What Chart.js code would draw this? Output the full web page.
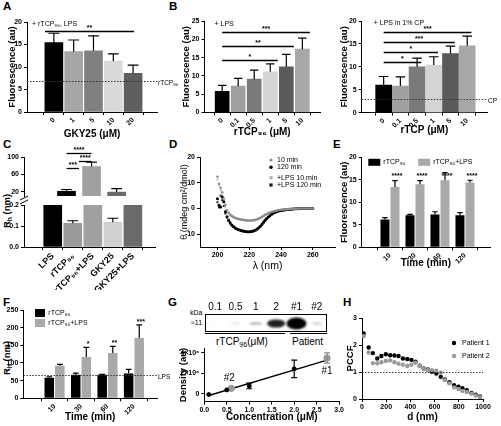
<!DOCTYPE html>
<html>
<head>
<meta charset="utf-8">
<script src="https://cdn.jsdelivr.net/npm/chart.js@4.4.1/dist/chart.umd.min.js"></script>
<style>
body { margin: 0; width: 501px; height: 426px; overflow: hidden; background: #fff; position: relative;
       font-family: 'Liberation Sans', 'DejaVu Sans', Arial, sans-serif; }
canvas { position: absolute; }
.t { position: absolute; white-space: nowrap; color: #000; }
.L { font-weight: bold; font-size: 11.5px; line-height: 12px; }
.rot { transform: translate(-50%, -50%) rotate(-90deg); font-weight: bold; font-size: 9.5px; }
sub { font-size: 70%; vertical-align: -2px; line-height: 0; }
</style>
</head>
<body>
<div class="t L" style="left:3px;top:0px">A</div>
<div class="t L" style="left:169px;top:0px">B</div>
<div class="t L" style="left:3px;top:138px">C</div>
<div class="t L" style="left:169px;top:138px">D</div>
<div class="t L" style="left:333px;top:138px">E</div>
<div class="t L" style="left:3px;top:296px">F</div>
<div class="t L" style="left:168px;top:296px">G</div>
<div class="t L" style="left:343px;top:296px">H</div>

<div class="t rot" style="left:6px;top:211px">R<sub>h</sub> (nm)</div>
<div class="t rot" style="left:6px;top:358px">R<sub>h</sub> (nm)</div>

<div class="t" style="left:190px;top:309px;font-size:7px">kDa</div>
<div class="t" style="left:191px;top:319px;font-size:7px">≈11</div>
<div class="t" style="left:205px;top:333px;width:80px;border-top:1.5px solid #000"></div>
<div class="t" style="left:290px;top:333px;width:37px;border-top:1.5px solid #000"></div>
<div class="t" style="left:216px;top:336px;font-size:10px">rTCP<sub>96</sub>(μM)</div>
<div class="t" style="left:292px;top:336px;font-size:10px">Patient</div>

<script>
// ---- data ----
// A
const gkyDoses = ['0', '1', '5', '10', '20'];
const fluoGky = [15.4, 13.4, 13.6, 11.3, 8.6];
const fluoGkyErr = [2.1, 2.6, 3.3, 1.6, 1.8];
// B
const tcpDoses = ['0', '0.1', '0.5', '1', '5', '10'];
const fluoLps = [5.8, 7.2, 9.1, 11.1, 12.5, 17.3];
const fluoLpsErr = [1.6, 2.1, 2.5, 2.2, 3.4, 3.0];
const fluoCP = [6.0, 5.8, 10.0, 10.4, 12.9, 14.6];
const fluoCPErr = [1.9, 2.0, 1.9, 1.8, 1.6, 2.1];
// C
const rhGroups = ['LPS', 'rTCP₉₆', 'rTCP₉₆+LPS', 'GKY25', 'GKY25+LPS'];
const rhC = [21, 0.113, 78, 0.118, 19];
const rhCErr = [4, 0.012, 10, 0.019, 8];
// D
const wavelength = [200, 201, 202, 203, 204, 205, 206, 207, 208, 209, 210, 211, 212, 213, 214, 215, 216, 217, 218, 219,
  220, 221, 222, 223, 224, 225, 226, 227, 228, 229, 230, 231, 232, 233, 234, 235, 236, 237, 238, 239,
  240, 241, 242, 243, 244, 245, 246, 247, 248, 249, 250, 251, 252, 253, 254, 255, 256, 257, 258, 259, 260];
const cd10 = [12.3, 9.6, 8.0, 6.3, 3.8, 1.4, -0.6, -1.7, -2.4, -2.9,
  -3.3, -3.6, -3.8, -4.0, -4.2, -4.3, -4.4, -4.5, -4.6, -4.7,
  -4.7, -4.7, -4.6, -4.5, -4.4, -4.2, -3.9, -3.6, -3.3, -2.9,
  -2.5, -2.2, -1.9, -1.6, -1.4, -1.2, -1.0, -0.9, -0.7, -0.6,
  -0.5, -0.45, -0.4, -0.35, -0.3, -0.25, -0.2, -0.2, -0.15, -0.1,
  -0.1, -0.05, -0.05, 0, 0, 0, 0, 0, 0, 0, 0];
const cd120 = [3.8, 1.2, 0.6, 4.4, 2.6, -1.3, -3.2, -4.6, -5.6, -6.4,
  -7.0, -7.5, -7.9, -8.2, -8.4, -8.6, -8.8, -8.9, -9.0, -9.1,
  -9.1, -9.0, -8.9, -8.7, -8.4, -8.0, -7.5, -6.9, -6.2, -5.4,
  -4.6, -3.9, -3.3, -2.8, -2.3, -1.9, -1.6, -1.3, -1.1, -0.9,
  -0.8, -0.7, -0.6, -0.5, -0.4, -0.35, -0.3, -0.25, -0.2, -0.15,
  -0.1, -0.1, -0.05, 0, 0, 0, 0, 0, 0, 0, 0];
const cdLps10 = [11.2, 9.0, 7.1, 5.2, 2.9, 0.6, -1.0, -2.0, -2.7, -3.1,
  -3.5, -3.8, -4.0, -4.2, -4.3, -4.4, -4.5, -4.6, -4.7, -4.8,
  -4.8, -4.8, -4.7, -4.6, -4.5, -4.3, -4.0, -3.7, -3.4, -3.0,
  -2.6, -2.3, -2.0, -1.7, -1.5, -1.3, -1.1, -0.9, -0.8, -0.7,
  -0.6, -0.5, -0.45, -0.4, -0.35, -0.3, -0.25, -0.2, -0.2, -0.15,
  -0.1, -0.1, -0.05, -0.05, 0, 0, 0, 0, 0, 0, 0];
const cdLps120 = [2.4, 0.4, 5.0, 3.2, 1.0, -2.0, -3.6, -4.9, -5.9, -6.6,
  -7.2, -7.7, -8.0, -8.3, -8.5, -8.7, -8.9, -9.0, -9.1, -9.2,
  -9.2, -9.1, -9.0, -8.8, -8.5, -8.1, -7.6, -7.0, -6.3, -5.5,
  -4.7, -4.0, -3.4, -2.9, -2.4, -2.0, -1.7, -1.4, -1.2, -1.0,
  -0.85, -0.75, -0.65, -0.55, -0.45, -0.4, -0.35, -0.3, -0.25, -0.2,
  -0.15, -0.1, -0.1, -0.05, 0, 0, 0, 0, 0, 0, 0];
// E
const timePoints = ['10', '30', '60', '120'];
const fluoTcp = [6.2, 7.1, 7.3, 7.1];
const fluoTcpErr = [0.4, 0.2, 0.6, 0.6];
const fluoTcpLps = [13.4, 14.0, 14.9, 14.4];
const fluoTcpLpsErr = [1.4, 0.8, 1.7, 0.5];
// F
const rhTcp = [58, 67, 67, 70];
const rhTcpErr = [3, 4, 1, 12];
const rhTcpLps = [92, 117, 128, 171];
const rhTcpLpsErr = [4, 27, 19, 37];
// G
const blotLanes = ['0.1', '0.5', '1', '2', '#1', '#2'];
const bandSignal = [0.06, 0.18, 0.4, 0.85, 1.0, 0.3];
const stdConc = [0.1, 0.5, 1.0, 2.0];
const stdDensity = [-0.05e6, 0.4e6, 0.78e6, 2.45e6];
const stdErr = [0, 0, 0.27e6, 0.85e6];
const patientConc = [2.73, 0.6];
const patientDensity = [3.5e6, 0.55e6];
const patientErr = [0.5e6, 0];
const fitConc = [0.1, 2.73];
const fitDensity = [-0.15e6, 3.3e6];
// H
const distance = [14, 55, 90, 126, 160, 197, 233, 268, 302, 338, 374, 408, 442, 477, 510, 545, 578, 614, 651, 685,
  722, 761, 797, 830, 866, 904, 940, 975];
const pccf1 = [2.43, 1.91, 1.70, 1.50, 1.59, 1.66, 1.62, 1.61, 1.59, 1.50, 1.48, 1.45, 1.38, 1.23, 1.13, 1.09,
  1.01, 0.94, 0.82, 0.72, 0.62, 0.51, 0.46, 0.40, 0.33, 0.22, 0.16, 0.09];
const pccf2 = [2.33, 1.72, 1.33, 1.32, 1.36, 1.41, 1.43, 1.36, 1.31, 1.27, 1.22, 1.27, 1.34, 1.22, 1.12, 1.08,
  1.07, 1.05, 0.97, 0.70, 0.58, 0.43, 0.37, 0.30, 0.26, 0.20, 0.13, 0.07];

// ---- helpers ----
const FF = "'Liberation Sans', 'DejaVu Sans', Arial, sans-serif";
Chart.defaults.font.family = FF;
Chart.defaults.color = '#000';

function mk(id, left, top, w, h) {
  const cv = document.createElement('canvas');
  cv.id = id; cv.width = w; cv.height = h;
  cv.style.left = left + 'px'; cv.style.top = top + 'px';
  document.body.appendChild(cv);
  return cv;
}

function yAxis(o) {
  const ax = {
    type: 'linear', min: o.min, max: o.max,
    border: {color: '#000', width: 1},
    grid: {drawOnChartArea: false, color: '#000', tickLength: 3},
    ticks: {font: {size: 7, weight: 'bold'}, padding: 2, stepSize: o.step, callback: o.fmt || (v => v)},
    title: {display: !!o.title, text: o.title, font: {size: o.tsize || 9.5, weight: o.tweight || 'bold'}, padding: 4},
    afterFit: s => { s.width = o.w; }
  };
  if (o.ticks) ax.afterBuildTicks = s => { s.ticks = o.ticks.map(v => ({value: v})); };
  return ax;
}

function xAxis(o) {
  const ax = {
    type: 'linear', min: o.min, max: o.max,
    border: {color: '#000', width: 1},
    grid: {drawOnChartArea: false, color: '#000', tickLength: 3},
    ticks: {font: {size: o.fsize || 7, weight: 'bold'}, padding: 1, autoSkip: false, stepSize: o.step,
            minRotation: o.rot || 0, maxRotation: o.rot || 0,
            callback: o.labels ? (v => o.labels[v]) : (o.fmt || (v => v))},
    title: {display: !!o.title, text: o.title, font: {size: o.tsize || 10, weight: o.tweight || 'bold'}, padding: 4},
    afterFit: s => { s.height = o.h; }
  };
  if (o.labels) ax.afterBuildTicks = s => { s.ticks = o.labels.map((l, i) => ({value: i})); };
  else if (o.ticks) ax.afterBuildTicks = s => { s.ticks = o.ticks.map(v => ({value: v})); };
  return ax;
}

function base(pad, x, y) {
  return {
    responsive: false, animation: false, devicePixelRatio: 1,
    layout: {padding: {left: 0, top: pad[0], right: pad[1], bottom: pad[2] || 0}},
    plugins: {legend: {display: false}, tooltip: {enabled: false}},
    scales: {x: x, y: y}
  };
}

function bars(vals, errs, colors, thick) {
  return {data: vals.map((v, i) => ({x: i, y: v})), errors: errs, backgroundColor: colors,
          barThickness: thick, clip: 0};
}

function txt(c, s, x, y, size, align, weight) {
  c.font = (weight || 'normal') + ' ' + size + 'px ' + FF;
  c.textAlign = align || 'left';
  c.textBaseline = 'middle';
  c.fillStyle = '#000';
  c.fillText(s, x, y);
}

function bracket(c, xs, ys, b, ext) {
  const y = Math.round(ys.getPixelForValue(b[2])) + 0.5;
  const x0 = xs.getPixelForValue(b[0] + ext[0]), x1 = xs.getPixelForValue(b[1] + ext[1]);
  c.strokeStyle = '#000'; c.lineWidth = 1.3;
  c.beginPath(); c.moveTo(x0, y); c.lineTo(x1, y); c.stroke();
  txt(c, b[3], (x0 + x1) / 2, y - 3.5, 7, 'center', 'bold');
}

function refLine(c, a, ys, v, label) {
  const y = Math.round(ys.getPixelForValue(v)) + 0.5;
  c.strokeStyle = '#333'; c.lineWidth = 1; c.setLineDash([1.5, 1.5]);
  c.beginPath(); c.moveTo(a.left, y); c.lineTo(a.right, y); c.stroke();
  c.setLineDash([]);
  if (label) txt(c, label, a.right + 1, y + 2, 6.5, 'left');
}

const errorBars = {
  id: 'errorBars',
  afterDatasetsDraw(chart) {
    const c = chart.ctx, ys = chart.scales.y;
    chart.data.datasets.forEach((ds, di) => {
      if (!ds.errors) return;
      chart.getDatasetMeta(di).data.forEach((el, i) => {
        const e = ds.errors[i], v = ds.data[i].y;
        if (!e || v > ys.max || v + e < ys.min) return;
        const half = ds.capHalf || el.width * 0.3;
        const yTop = ys.getPixelForValue(v + e);
        const yBot = ds.bothWays ? ys.getPixelForValue(v - e) : el.y;
        c.save();
        c.strokeStyle = ds.errorColor || '#000'; c.lineWidth = 1.2;
        c.beginPath();
        c.moveTo(el.x, yBot); c.lineTo(el.x, yTop);
        c.moveTo(el.x - half, yTop); c.lineTo(el.x + half, yTop);
        if (ds.bothWays) { c.moveTo(el.x - half, yBot); c.lineTo(el.x + half, yBot); }
        c.stroke();
        c.restore();
      });
    });
  }
};

function deco(draw) {
  return {
    id: 'deco',
    afterDraw(chart) {
      const c = chart.ctx;
      c.save();
      draw(c, chart.scales.x, chart.scales.y, chart.chartArea, chart);
      c.restore();
    }
  };
}

const greys6 = ['#000000', '#a0a0a0', '#7a7a7a', '#d4d4d4', '#5a5a5a', '#a8a8a8'];

// ---- A ----
new Chart(mk('cA', 3, 0, 180, 144), {
  type: 'bar',
  data: {datasets: [bars(fluoGky, fluoGkyErr, ['#000000', '#a6a6a6', '#808080', '#d9d9d9', '#5f5f5f'], 18)]},
  options: base([22, 26],
    xAxis({labels: gkyDoses, min: -0.7, max: 4.55, h: 32, rot: 45, title: 'GKY25 (μM)'}),
    yAxis({min: 0, max: 20, step: 5, w: 24, title: 'Fluorescence (au)'})),
  plugins: [errorBars, deco((c, x, y, a) => {
    refLine(c, a, y, 7, 'rTCP₉₆');
    bracket(c, x, y, [0, 4, 18.1, '**'], [-0.45, 0.05]);
    txt(c, '+ rTCP₉₆, LPS', a.left + 5, a.top + 2, 7);
  })]
});

// ---- B (LPS) ----
new Chart(mk('cB1', 177, 0, 165, 142), {
  type: 'bar',
  data: {datasets: [bars(fluoLps, fluoLpsErr, greys6, 14)]},
  options: base([21, 22],
    xAxis({labels: tcpDoses, min: -0.5, max: 5.5, h: 29.5, rot: 45, title: 'rTCP₉₆ (μM)'}),
    yAxis({min: 0, max: 25, step: 5, w: 27.5, title: 'Fluorescence (au)'})),
  plugins: [errorBars, deco((c, x, y, a) => {
    [[0, 3, 14.3, '*'], [0, 4, 18.1, '**'], [0, 5, 21.9, '***']].forEach(b => bracket(c, x, y, b, [0, 0.47]));
    txt(c, '+ LPS', a.left + 10, a.top + 3, 7);
  })]
});

// ---- B (LPS in 1% CP) ----
new Chart(mk('cB2', 335, 0, 166, 140), {
  type: 'bar',
  data: {datasets: [bars(fluoCP, fluoCPErr, greys6, 16)]},
  options: base([21, 14],
    xAxis({labels: tcpDoses, min: -0.69, max: 5.56, h: 27.3, rot: 45, title: 'rTCP (μM)'}),
    yAxis({min: 0, max: 20, step: 5, w: 26.7, title: 'Fluorescence (au)'})),
  plugins: [errorBars, deco((c, x, y, a) => {
    refLine(c, a, y, 3, 'CP');
    [[0, 2, 11.0, '*'], [0, 3, 13.2, '*'], [0, 4, 15.4, '***'], [0, 5, 17.5, '***']]
      .forEach(b => bracket(c, x, y, b, [0, 0.25]));
    txt(c, '+ LPS in 1% CP', a.left + 12, a.top + 2, 7);
  })]
});

// ---- C (broken axis: upper and lower segments) ----
const cColors = ['#000000', '#9a9a9a', '#a0a0a0', '#d0d0d0', '#6a6a6a'];
new Chart(mk('cCtop', 0, 140, 170, 66), {
  type: 'bar',
  data: {datasets: [bars(rhC, rhCErr, cColors, 18)]},
  options: base([17, 15, 10],
    {type: 'linear', display: false, min: -0.78, max: 4.45},
    yAxis({min: 10, max: 100, w: 24, ticks: [20, 40, 60, 80, 100]})),
  plugins: [errorBars, deco((c, x, y, a) => {
    [[0, 2, 108.5, '****'], [1, 2, 90.8, '****'], [0, 1, 73.9, '***']].forEach(b => bracket(c, x, y, b, [0, 0]));
    c.strokeStyle = '#000'; c.lineWidth = 1;
    [a.bottom + 2, a.bottom + 6].forEach(yy => {
      c.beginPath(); c.moveTo(a.left - 4, yy + 2); c.lineTo(a.left + 4, yy - 2); c.stroke();
    });
  })]
});
new Chart(mk('cCbot', 0, 196, 170, 94), {
  type: 'bar',
  data: {datasets: [bars(rhC, rhCErr, cColors, 18)]},
  options: base([9, 15],
    xAxis({labels: rhGroups, min: -0.78, max: 4.45, h: 43, rot: 45, fsize: 9}),
    yAxis({min: 0, max: 0.2, step: 0.1, w: 24, fmt: v => v.toFixed(1)})),
  plugins: [errorBars]
});

// ---- D ----
function cdSet(label, vals, color, style, r) {
  return {type: 'scatter', label: label, data: wavelength.map((w, i) => ({x: w, y: vals[i]})),
          backgroundColor: color, borderColor: color, pointStyle: style, pointRadius: r, borderWidth: 0};
}
new Chart(mk('cD', 175, 140, 169, 136), {
  type: 'scatter',
  data: {datasets: [
    cdSet('10 min', cd10, '#8c8c8c', 'circle', 1.3),
    cdSet('120 min', cd120, '#000000', 'circle', 1.5),
    cdSet('+LPS 10 min', cdLps10, '#b5b5b5', 'rect', 1.3),
    cdSet('+LPS 120 min', cdLps120, '#1a1a1a', 'rect', 1.4)
  ]},
  options: base([17, 9],
    xAxis({min: 189, max: 274, h: 29, ticks: [200, 220, 240, 260], title: 'λ (nm)', tsize: 10.5, tweight: 'normal'}),
    yAxis({min: -15, max: 20, w: 25, ticks: [-10, 0, 10, 20], title: 'θ (mdeg cm²/dmol)', tsize: 9, tweight: 'normal'})),
  plugins: [deco((c, x, y, a, ch) => {
    const rows = [3, 10.3, 20.7, 28];
    ch.data.datasets.forEach((ds, i) => {
      const yy = a.top + rows[i], xx = a.left + 71;
      c.fillStyle = ds.backgroundColor;
      if (ds.pointStyle === 'rect') c.fillRect(xx - 1.6, yy - 1.6, 3.2, 3.2);
      else { c.beginPath(); c.arc(xx, yy, ds.pointRadius + 0.3, 0, Math.PI * 2); c.fill(); }
      txt(c, ds.label, xx + 6, yy, 7);
    });
  })]
});

// ---- E ----
new Chart(mk('cE', 335, 140, 166, 133), {
  type: 'bar',
  data: {datasets: [
    {data: fluoTcp.map((v, i) => ({x: i, y: v})), errors: fluoTcpErr, backgroundColor: '#000000', label: 'rTCP₉₆'},
    {data: fluoTcpLps.map((v, i) => ({x: i, y: v})), errors: fluoTcpLpsErr, backgroundColor: '#a9a9a9', label: 'rTCP₉₆+LPS'}
  ]},
  options: base([17.3, 11],
    xAxis({labels: timePoints, min: -0.49, max: 3.36, h: 25.7, rot: 45, title: 'Time (min)'}),
    yAxis({min: 0, max: 20, step: 5, w: 26.7, title: 'Fluorescence (au)'})),
  plugins: [errorBars, deco((c, x, y, a, ch) => {
    timePoints.forEach((t, i) => txt(c, '****', x.getPixelForValue(i) + 7, y.getPixelForValue(15.8), 7, 'center', 'bold'));
    [[6.6, 0], [56.5, 1]].forEach(([dx, di]) => {
      const ds = ch.data.datasets[di];
      c.fillStyle = ds.backgroundColor;
      c.fillRect(a.left + dx, a.top + 1.5, 12, 7);
      txt(c, ds.label, a.left + dx + 15, a.top + 5, 7);
    });
  })]
});

// ---- F ----
new Chart(mk('cF', 0, 292, 175, 135), {
  type: 'bar',
  data: {datasets: [
    {data: rhTcp.map((v, i) => ({x: i, y: v})), errors: rhTcpErr, backgroundColor: '#000000', label: 'rTCP₉₆'},
    {data: rhTcpLps.map((v, i) => ({x: i, y: v})), errors: rhTcpLpsErr, backgroundColor: '#a9a9a9', label: 'rTCP₉₆+LPS'}
  ]},
  options: base([18, 18],
    xAxis({labels: timePoints, min: -0.55, max: 3.24, h: 28.7, rot: 45, title: 'Time (min)'}),
    yAxis({min: 0, max: 250, step: 50, w: 23.3})),
  plugins: [errorBars, deco((c, x, y, a, ch) => {
    refLine(c, a, y, 65, 'LPS');
    ['', '*', '**', '***'].forEach((s, i) => {
      if (s) txt(c, s, x.getPixelForValue(i) + 7, y.getPixelForValue(rhTcpLps[i] + rhTcpLpsErr[i] + 9), 7, 'center', 'bold');
    });
    [0, 1].forEach(di => {
      const ds = ch.data.datasets[di];
      c.fillStyle = ds.backgroundColor;
      c.fillRect(a.left + 11.7, a.top - 1 + di * 10, 10, 8);
      txt(c, ds.label, a.left + 25, a.top + 3 + di * 10, 7);
    });
  })]
});

// ---- G: blot strip ----
new Chart(mk('cBlot', 205, 300, 122, 32), {
  type: 'line',
  data: {labels: blotLanes, datasets: [{data: bandSignal, showLine: false, pointRadius: 0}]},
  options: {
    responsive: false, animation: false, devicePixelRatio: 1,
    layout: {padding: 0},
    plugins: {legend: {display: false}, tooltip: {enabled: false}},
    scales: {
      x: {type: 'category', position: 'top', offset: true, border: {display: false},
          grid: {display: false, drawTicks: false}, ticks: {font: {size: 10}, padding: 1},
          afterFit: s => { s.height = 14; }},
      y: {display: false, min: 0, max: 1}
    }
  },
  plugins: [{
    id: 'bands',
    afterDatasetsDraw(chart) {
      const c = chart.ctx, a = chart.chartArea, ds = chart.data.datasets[0];
      const yc = (a.top + a.bottom) / 2 + 0.5;
      c.save();
      c.beginPath(); c.rect(a.left, a.top, a.right - a.left, a.bottom - a.top); c.clip();
      c.filter = 'blur(1.2px)';
      chart.getDatasetMeta(0).data.forEach((el, i) => {
        const s = ds.data[i];
        c.fillStyle = 'rgba(0,0,0,' + Math.min(1, Math.pow(s, 1.4) * 1.1) + ')';
        c.beginPath(); c.ellipse(el.x, yc, 4 + 6 * s, 1 + 5 * s * s * s, 0, 0, Math.PI * 2); c.fill();
      });
      c.restore();
      c.strokeStyle = '#000'; c.lineWidth = 1;
      c.strokeRect(a.left + 0.5, a.top + 0.5, a.right - a.left - 1, a.bottom - a.top - 1);
    }
  }]
});

// ---- G: standard curve ----
new Chart(mk('cG', 174, 340, 171, 87), {
  type: 'scatter',
  data: {datasets: [
    {data: stdConc.map((v, i) => ({x: v, y: stdDensity[i]})), errors: stdErr, bothWays: true, capHalf: 3,
     backgroundColor: '#000', borderColor: '#000', pointRadius: 2},
    {data: patientConc.map((v, i) => ({x: v, y: patientDensity[i]})), errors: patientErr, bothWays: true, capHalf: 3,
     errorColor: '#888', backgroundColor: '#999', borderColor: '#999', pointRadius: 3.2},
    {type: 'line', data: fitConc.map((v, i) => ({x: v, y: fitDensity[i]})), borderColor: '#000', borderWidth: 1.4,
     pointRadius: 0, showLine: true}
  ]},
  options: base([8.3, 5.7],
    xAxis({min: 0, max: 3, step: 0.5, h: 25.3, fmt: v => v.toFixed(1), title: 'Concentration (μM)'}),
    yAxis({min: -0.75e6, max: 4.45e6, w: 30.3, ticks: [0, 2e6, 4e6],
           fmt: v => v === 0 ? '0' : (v / 1e6) + '×10⁶', title: 'Density (au)'})),
  plugins: [errorBars, deco((c, x, y) => {
    txt(c, '#2', x.getPixelForValue(patientConc[1]) - 2, y.getPixelForValue(patientDensity[1]) - 10, 10, 'center');
    txt(c, '#1', x.getPixelForValue(patientConc[0]), y.getPixelForValue(patientDensity[0]) + 13, 10, 'center');
  })]
});

// ---- H ----
new Chart(mk('cH', 341, 310, 160, 117), {
  type: 'scatter',
  data: {datasets: [
    {label: 'Patient 2', data: distance.map((d, i) => ({x: d, y: pccf2[i]})), backgroundColor: '#9a9a9a', borderWidth: 0, pointRadius: 2.2},
    {label: 'Patient 1', data: distance.map((d, i) => ({x: d, y: pccf1[i]})), backgroundColor: '#000', borderWidth: 0, pointRadius: 2.2}
  ]},
  options: base([8, 18],
    xAxis({min: 0, max: 1000, step: 200, h: 28, title: 'd (nm)'}),
    yAxis({min: 0, max: 3, step: 1, w: 21, title: 'PCCF'})),
  plugins: [deco((c, x, y, a, ch) => {
    refLine(c, a, y, 1);
    [1, 0].forEach((di, k) => {
      const ds = ch.data.datasets[di], yy = a.top + 25 + k * 13;
      c.fillStyle = ds.backgroundColor;
      c.beginPath(); c.arc(a.left + 92, yy, 2.2, 0, Math.PI * 2); c.fill();
      txt(c, ds.label, a.left + 100, yy, 7);
    });
  })]
});
</script>
</body>
</html>
